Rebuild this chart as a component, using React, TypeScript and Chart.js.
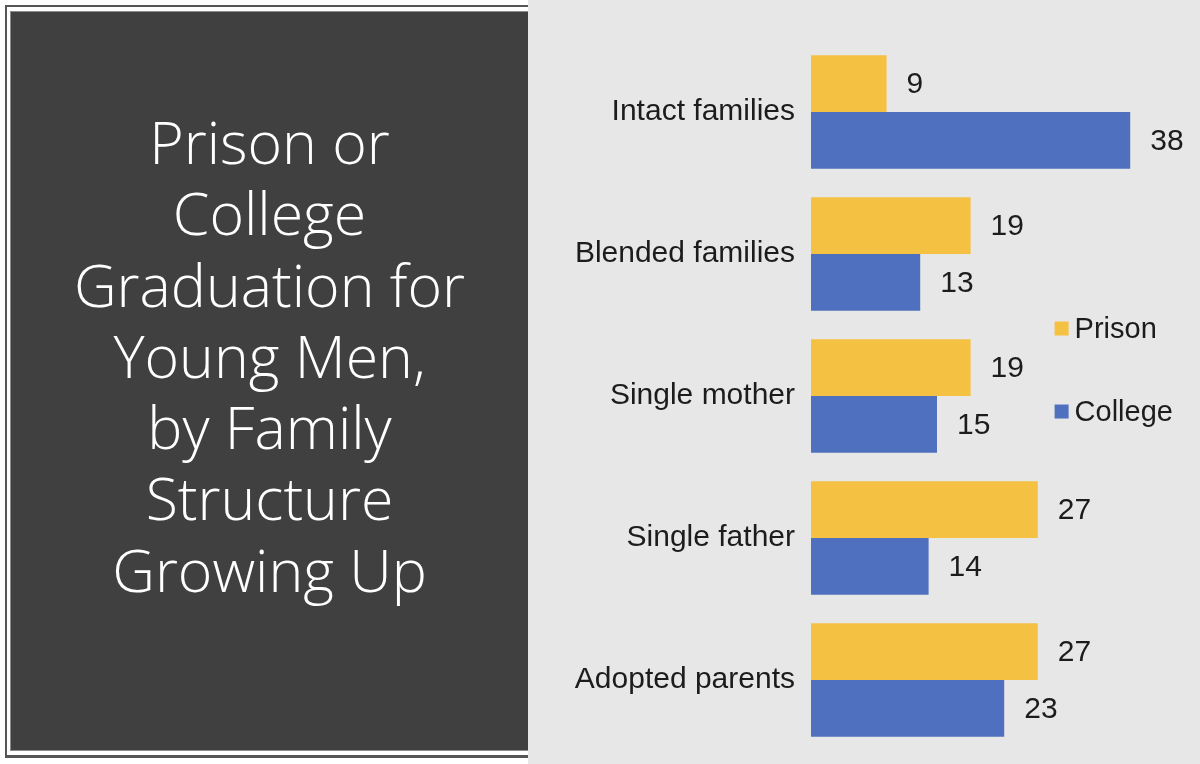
import React, { useEffect, useRef } from "react";
import { Chart, registerables } from "chart.js";

Chart.register(...registerables);

const categories = [
  "Intact families",
  "Blended families",
  "Single mother",
  "Single father",
  "Adopted parents",
];
const prisonValues = [9, 19, 19, 27, 27];
const collegeValues = [38, 13, 15, 14, 23];
const seriesNames = ["Prison", "College"];
const titleLines = [
  "Prison or",
  "College",
  "Graduation for",
  "Young Men,",
  "by Family",
  "Structure",
  "Growing Up",
];

const YELLOW = "#F5C143";
const BLUE = "#4E70BE";
const TEXT = "#1c1c1c";
const FONT = '"Liberation Sans", Arial, sans-serif';

const valueLabels = {
  id: "valueLabels",
  afterDatasetsDraw(chart: any) {
    const ctx = chart.ctx;
    ctx.save();
    ctx.font = `30px ${FONT}`;
    ctx.fillStyle = TEXT;
    ctx.textAlign = "left";
    ctx.textBaseline = "middle";
    chart.data.datasets.forEach((ds: any, di: number) => {
      const meta = chart.getDatasetMeta(di);
      meta.data.forEach((bar: any, i: number) => {
        ctx.fillText(String(ds.data[i]), bar.x + 20, bar.y + 1);
      });
    });
    ctx.restore();
  },
};

const sideLegend = {
  id: "sideLegend",
  afterDraw(chart: any) {
    const ctx = chart.ctx;
    const xScale = chart.scales.x;
    const area = chart.chartArea;
    const x = xScale.getPixelForValue(29);
    const centerY = area.top + area.height * 0.4634;
    const gap = 83;
    ctx.save();
    ctx.font = `29px ${FONT}`;
    ctx.textAlign = "left";
    ctx.textBaseline = "middle";
    chart.data.datasets.forEach((ds: any, di: number) => {
      const y = centerY + (di - 0.5) * gap;
      ctx.fillStyle = ds.backgroundColor;
      ctx.fillRect(x, y - 7, 14, 14);
      ctx.fillStyle = TEXT;
      ctx.fillText(ds.label, x + 20, y + 1);
    });
    ctx.restore();
  },
};

function BarChart() {
  const ref = useRef<HTMLCanvasElement | null>(null);
  useEffect(() => {
    if (!ref.current) return;
    const chart = new Chart(ref.current, {
      type: "bar",
      data: {
        labels: categories,
        datasets: [
          {
            label: seriesNames[0],
            data: prisonValues,
            backgroundColor: YELLOW,
            categoryPercentage: 0.8,
            barPercentage: 1.0,
          },
          {
            label: seriesNames[1],
            data: collegeValues,
            backgroundColor: BLUE,
            categoryPercentage: 0.8,
            barPercentage: 1.0,
          },
        ],
      },
      options: {
        indexAxis: "y",
        animation: false,
        responsive: true,
        maintainAspectRatio: false,
        layout: { padding: { left: 0, right: 11, top: 41, bottom: 13 } },
        scales: {
          x: {
            display: false,
            min: 0,
            max: 45,
            grid: { display: false },
          },
          y: {
            grid: { display: false, drawTicks: false },
            border: { display: false },
            ticks: {
              padding: 16,
              color: TEXT,
              font: { family: FONT, size: 30 },
            },
            afterFit: (scale: any) => {
              scale.width = 283;
              scale.paddingTop = 0;
              scale.paddingBottom = 0;
            },
          },
        },
        plugins: {
          legend: { display: false },
          tooltip: { enabled: false },
          title: { display: false },
        },
      },
      plugins: [valueLabels, sideLegend],
    });
    return () => chart.destroy();
  }, []);
  return (
    <div style={{ position: "relative", width: 672, height: 764 }}>
      <canvas ref={ref} />
    </div>
  );
}

export default function App() {
  return (
    <div
      style={{
        position: "fixed",
        left: 0,
        top: 0,
        width: 1200,
        height: 764,
        background: "#ffffff",
        overflow: "hidden",
      }}
    >
      <div
        style={{
          position: "absolute",
          left: 5,
          top: 5,
          width: 523,
          height: 753,
          borderLeft: "2px solid #555555",
          borderTop: "2px solid #555555",
          borderBottom: "3px solid #555555",
          boxSizing: "border-box",
        }}
      />
      <div
        style={{
          position: "absolute",
          left: 10,
          top: 11,
          width: 518,
          height: 740,
          background: "#404040",
          borderLeft: "1px solid #8c8c8c",
          borderTop: "1px solid #8c8c8c",
          borderBottom: "1px solid #8c8c8c",
          boxSizing: "border-box",
        }}
      >
        <div
          style={{
            position: "absolute",
            left: 0,
            top: 94,
            width: 517,
            textAlign: "center",
            color: "#ffffff",
            fontFamily: '"Open Sans", sans-serif',
            fontWeight: 300,
            fontSize: 59,
            lineHeight: "71.3px",
          }}
        >
          {titleLines.map((t, i) => (
            <div key={i}>{t}</div>
          ))}
        </div>
      </div>
      <div
        style={{
          position: "absolute",
          left: 528,
          top: 0,
          width: 672,
          height: 764,
          background: "#e7e7e7",
        }}
      >
        <BarChart />
      </div>
    </div>
  );
}
